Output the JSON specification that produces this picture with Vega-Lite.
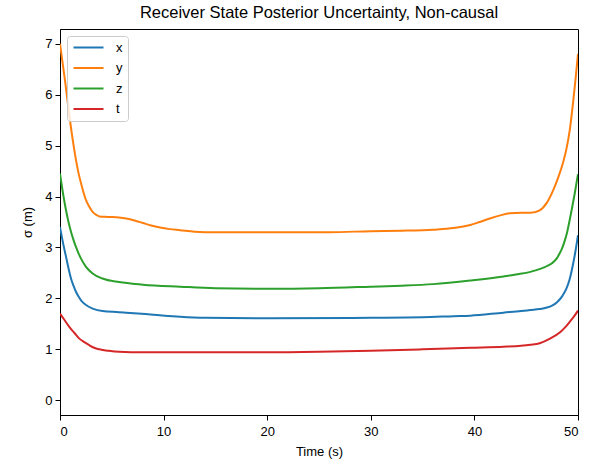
{
  "$schema": "https://vega.github.io/schema/vega-lite/v6.json",
  "autosize": "none",
  "width": 518,
  "height": 386,
  "padding": {"left": 60, "top": 29, "right": 19, "bottom": 47},
  "background": "white",
  "title": {"text": "Receiver State Posterior Uncertainty, Non-causal", "fontSize": 16.5, "fontWeight": "normal", "font": "Liberation Sans", "color": "black", "offset": 8, "anchor": "middle"},
  "config": {
    "font": "Liberation Sans",
    "view": {"stroke": "black", "strokeWidth": 1},
    "axis": {"domainColor": "black", "tickColor": "black", "labelColor": "black", "titleColor": "black", "labelFontSize": 13, "titleFontSize": 13, "titleFontWeight": "normal", "tickSize": 5, "labelPadding": 3, "grid": false}
  },
  "data": {"values": [
    {"time":0,"s":"x","v":3.4},{"time":0.3,"s":"x","v":3.08},{"time":0.58,"s":"x","v":2.82},{"time":0.82,"s":"x","v":2.59},{"time":1.06,"s":"x","v":2.39},{"time":1.3,"s":"x","v":2.25},{"time":1.54,"s":"x","v":2.13},{"time":1.78,"s":"x","v":2.04},{"time":2.03,"s":"x","v":1.96},{"time":2.51,"s":"x","v":1.87},{"time":3.15,"s":"x","v":1.8},{"time":4.1,"s":"x","v":1.75},{"time":5.7,"s":"x","v":1.73},{"time":6.4,"s":"x","v":1.72},{"time":9,"s":"x","v":1.68},{"time":11.6,"s":"x","v":1.64},{"time":14,"s":"x","v":1.62},{"time":20,"s":"x","v":1.61},{"time":30,"s":"x","v":1.62},{"time":35,"s":"x","v":1.63},{"time":38,"s":"x","v":1.65},{"time":39.6,"s":"x","v":1.66},{"time":42.8,"s":"x","v":1.72},{"time":44.5,"s":"x","v":1.75},{"time":45.4,"s":"x","v":1.77},{"time":46.3,"s":"x","v":1.79},{"time":47,"s":"x","v":1.82},{"time":47.5,"s":"x","v":1.86},{"time":48,"s":"x","v":1.93},{"time":48.5,"s":"x","v":2.05},{"time":48.9,"s":"x","v":2.2},{"time":49.2,"s":"x","v":2.38},{"time":49.5,"s":"x","v":2.65},{"time":49.75,"s":"x","v":2.92},{"time":50,"s":"x","v":3.24},
    {"time":0,"s":"y","v":7.0},{"time":0.5,"s":"y","v":6.25},{"time":0.9,"s":"y","v":5.6},{"time":1.2,"s":"y","v":5.15},{"time":1.54,"s":"y","v":4.72},{"time":1.8,"s":"y","v":4.45},{"time":2.03,"s":"y","v":4.26},{"time":2.27,"s":"y","v":4.08},{"time":2.51,"s":"y","v":3.93},{"time":2.83,"s":"y","v":3.8},{"time":3.15,"s":"y","v":3.7},{"time":3.5,"s":"y","v":3.64},{"time":3.8,"s":"y","v":3.61},{"time":4.6,"s":"y","v":3.6},{"time":5.7,"s":"y","v":3.59},{"time":6.4,"s":"y","v":3.57},{"time":7.2,"s":"y","v":3.53},{"time":8,"s":"y","v":3.48},{"time":8.8,"s":"y","v":3.43},{"time":9.65,"s":"y","v":3.39},{"time":10.6,"s":"y","v":3.36},{"time":11.6,"s":"y","v":3.34},{"time":13,"s":"y","v":3.31},{"time":15,"s":"y","v":3.3},{"time":20,"s":"y","v":3.3},{"time":26,"s":"y","v":3.3},{"time":30,"s":"y","v":3.32},{"time":33,"s":"y","v":3.33},{"time":36,"s":"y","v":3.35},{"time":38,"s":"y","v":3.38},{"time":39.6,"s":"y","v":3.44},{"time":40.5,"s":"y","v":3.5},{"time":41.5,"s":"y","v":3.57},{"time":42.5,"s":"y","v":3.63},{"time":43.4,"s":"y","v":3.67},{"time":44.5,"s":"y","v":3.68},{"time":45.4,"s":"y","v":3.68},{"time":46.3,"s":"y","v":3.73},{"time":47,"s":"y","v":3.88},{"time":47.6,"s":"y","v":4.12},{"time":48.1,"s":"y","v":4.38},{"time":48.6,"s":"y","v":4.7},{"time":48.9,"s":"y","v":4.95},{"time":49.2,"s":"y","v":5.3},{"time":49.5,"s":"y","v":5.8},{"time":49.75,"s":"y","v":6.28},{"time":50,"s":"y","v":6.8},
    {"time":0,"s":"z","v":4.45},{"time":0.3,"s":"z","v":4.05},{"time":0.58,"s":"z","v":3.73},{"time":0.82,"s":"z","v":3.5},{"time":1.06,"s":"z","v":3.31},{"time":1.3,"s":"z","v":3.15},{"time":1.54,"s":"z","v":3.01},{"time":1.78,"s":"z","v":2.89},{"time":2.03,"s":"z","v":2.78},{"time":2.51,"s":"z","v":2.62},{"time":3.15,"s":"z","v":2.49},{"time":4.1,"s":"z","v":2.39},{"time":5.7,"s":"z","v":2.32},{"time":8,"s":"z","v":2.27},{"time":11.6,"s":"z","v":2.23},{"time":15,"s":"z","v":2.2},{"time":20,"s":"z","v":2.19},{"time":25,"s":"z","v":2.2},{"time":30,"s":"z","v":2.23},{"time":33,"s":"z","v":2.25},{"time":36,"s":"z","v":2.28},{"time":39.6,"s":"z","v":2.35},{"time":42.8,"s":"z","v":2.43},{"time":44,"s":"z","v":2.47},{"time":45.4,"s":"z","v":2.52},{"time":45.9,"s":"z","v":2.55},{"time":46.85,"s":"z","v":2.62},{"time":47.49,"s":"z","v":2.69},{"time":47.97,"s":"z","v":2.79},{"time":48.22,"s":"z","v":2.88},{"time":48.46,"s":"z","v":2.98},{"time":48.7,"s":"z","v":3.12},{"time":48.94,"s":"z","v":3.29},{"time":49.18,"s":"z","v":3.52},{"time":49.42,"s":"z","v":3.77},{"time":49.7,"s":"z","v":4.08},{"time":50,"s":"z","v":4.44},
    {"time":0,"s":"t","v":1.7},{"time":0.45,"s":"t","v":1.57},{"time":0.9,"s":"t","v":1.44},{"time":1.4,"s":"t","v":1.32},{"time":1.87,"s":"t","v":1.21},{"time":2.35,"s":"t","v":1.14},{"time":2.83,"s":"t","v":1.08},{"time":3.3,"s":"t","v":1.03},{"time":3.8,"s":"t","v":1.0},{"time":4.7,"s":"t","v":0.97},{"time":5.7,"s":"t","v":0.95},{"time":8,"s":"t","v":0.94},{"time":20,"s":"t","v":0.94},{"time":25,"s":"t","v":0.95},{"time":30,"s":"t","v":0.97},{"time":35,"s":"t","v":1.0},{"time":39.6,"s":"t","v":1.03},{"time":42.8,"s":"t","v":1.05},{"time":44.5,"s":"t","v":1.07},{"time":45.4,"s":"t","v":1.09},{"time":46.3,"s":"t","v":1.12},{"time":47.3,"s":"t","v":1.21},{"time":48.3,"s":"t","v":1.34},{"time":48.8,"s":"t","v":1.44},{"time":49.2,"s":"t","v":1.54},{"time":49.6,"s":"t","v":1.64},{"time":50,"s":"t","v":1.76}
  ]},
  "mark": {"type": "line", "strokeWidth": 2, "interpolate": "monotone", "clip": true},
  "encoding": {
    "x": {"field": "time", "type": "quantitative", "title": "Time (s)",
          "scale": {"domain": [0, 50], "nice": false, "zero": false},
          "axis": {"values": [0, 10, 20, 30, 40, 50], "labelPadding": 5, "titlePadding": 7}},
    "y": {"field": "v", "type": "quantitative", "title": "σ (m)",
          "scale": {"domain": [-0.29, 7.29], "nice": false, "zero": false},
          "axis": {"values": [0, 1, 2, 3, 4, 5, 6, 7], "titlePadding": 10}},
    "color": {"field": "s", "type": "nominal",
              "scale": {"domain": ["x", "y", "z", "t"], "range": ["#1f77b4", "#ff7f0e", "#2ca02c", "#d62728"]},
              "legend": {"title": null, "orient": "none", "legendX": 7, "legendY": 7, "padding": 5,
                         "strokeColor": "#cccccc", "fillColor": "rgba(255,255,255,0.8)", "cornerRadius": 3,
                         "symbolType": "M-1,0L5,0", "symbolSize": 100, "symbolStrokeWidth": 2,
                         "labelFontSize": 13, "labelColor": "black", "labelOffset": 31, "rowPadding": 6.5}},
    "order": {"field": "time", "type": "quantitative"}
  }
}
